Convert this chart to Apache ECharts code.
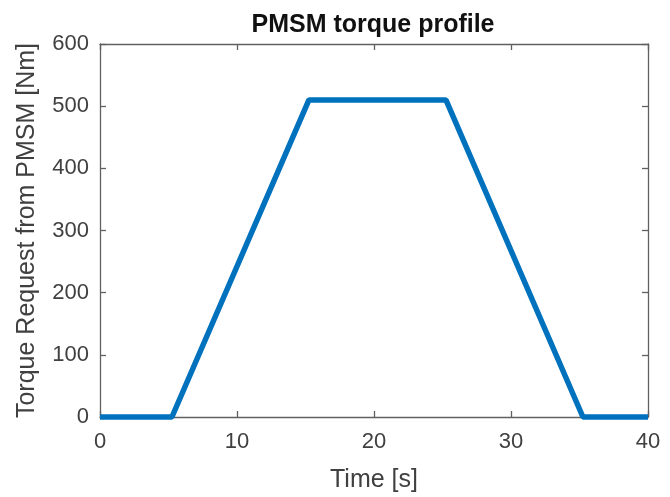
<!DOCTYPE html>
<html>
<head>
<meta charset="utf-8">
<script src="https://cdn.jsdelivr.net/npm/echarts@6/dist/echarts.min.js"></script>
<style>html,body{margin:0;padding:0;background:#fff}#c{width:670px;height:497px}</style>
</head>
<body>
<div id="c"></div>
<script>
const timeValues = [0, 5.25, 15.25, 25.25, 35.25, 40];
const torqueValues = [0, 0, 510, 510, 0, 0];
const xTicks = [0, 10, 20, 30, 40];
const yTicks = [0, 100, 200, 300, 400, 500, 600];

const chart = echarts.init(document.getElementById('c'));
const axisColor = '#606060';
const textColor = '#404040';
const font = 'Liberation Sans, Arial, sans-serif';
const data = timeValues.map((t, i) => [t, torqueValues[i]]);

function axisCommon(extra) {
  return Object.assign({
    type: 'value',
    axisLine: {show: true, onZero: false, lineStyle: {color: axisColor, width: 1.3}},
    axisTick: {show: true, inside: true, length: 6, lineStyle: {color: axisColor, width: 1.3}},
    splitLine: {show: false}
  }, extra);
}

chart.setOption({
  animation: false,
  title: {
    text: 'PMSM torque profile',
    left: 368, top: 8, textAlign: 'center',
    textStyle: {fontFamily: font, fontSize: 25, fontWeight: 'bold', color: '#111'}
  },
  grid: {left: 100, right: 22, top: 44, bottom: 80, containLabel: false, outerBoundsMode: 'none'},
  xAxis: [axisCommon({
    min: 0, max: 40, interval: 10, position: 'bottom',
    name: 'Time [s]', nameLocation: 'middle', nameGap: 51,
    nameTextStyle: {fontFamily: font, fontSize: 25, color: textColor},
    axisLabel: {fontFamily: font, fontSize: 22, color: textColor, margin: 14}
  }), axisCommon({
    min: 0, max: 40, interval: 10, position: 'top',
    axisLabel: {show: false}
  })],
  yAxis: [axisCommon({
    min: 0, max: 600, interval: 100, position: 'left',
    name: 'Torque Request from PMSM [Nm]', nameLocation: 'middle', nameGap: 60,
    nameTextStyle: {fontFamily: font, fontSize: 25, color: textColor},
    axisLabel: {fontFamily: font, fontSize: 22, color: textColor, margin: 11}
  }), axisCommon({
    min: 0, max: 600, interval: 100, position: 'right',
    axisLabel: {show: false}
  })],
  series: [{
    type: 'line', data: data, showSymbol: false, symbol: 'none',
    lineStyle: {color: '#0072BD', width: 5.5},
    clip: false
  }]
});
</script>
</body>
</html>
